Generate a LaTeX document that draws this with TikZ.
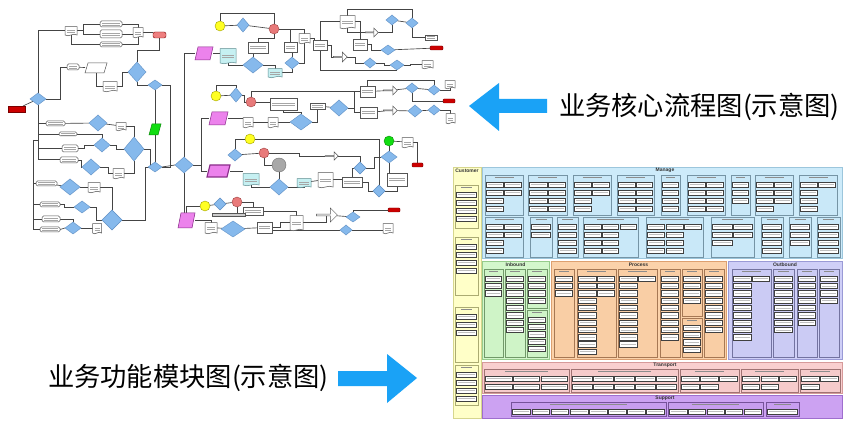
\documentclass[tikz,border=0pt]{standalone}
\usepackage{fontspec}
\newfontfamily\cjk{Noto Sans CJK SC}
\setsansfont{Liberation Sans}
\usetikzlibrary{shapes.geometric,shapes.symbols,shapes.arrows,calc}
\pgfdeclarelayer{back}
\pgfdeclarelayer{bg}
\pgfsetlayers{back,bg,main}
\definecolor{lnc}{HTML}{444444}
\definecolor{diaf}{HTML}{86B9EC}
\definecolor{diad}{HTML}{5E8FC4}
\definecolor{boxd}{HTML}{555555}
\definecolor{dred}{HTML}{CC0000}
\definecolor{salm}{HTML}{EE7F7F}
\definecolor{grn}{HTML}{11DD11}
\definecolor{grnd}{HTML}{0A8A0A}
\definecolor{yel}{HTML}{FFFF22}
\definecolor{yeld}{HTML}{A0A000}
\definecolor{redc}{HTML}{E87A7A}
\definecolor{redd}{HTML}{A04040}
\definecolor{grayc}{HTML}{A8A8A8}
\definecolor{grayd}{HTML}{707070}
\definecolor{magf}{HTML}{EC82EC}
\definecolor{magd}{HTML}{8A2E8A}
\definecolor{cyf}{HTML}{C6F0F2}
\definecolor{cyd}{HTML}{5E8C90}
\definecolor{arrb}{HTML}{1AA2F6}
\definecolor{custf}{HTML}{FFFFC8}
\definecolor{custd}{HTML}{D6D68E}
\definecolor{manf}{HTML}{CDEBFA}
\definecolor{mand}{HTML}{9CC6DC}
\definecolor{inbf}{HTML}{D4F7CC}
\definecolor{inbd}{HTML}{96CC8C}
\definecolor{prof}{HTML}{FBD2AA}
\definecolor{prod}{HTML}{DDA070}
\definecolor{outf}{HTML}{CFCFF7}
\definecolor{outd}{HTML}{9A9AD6}
\definecolor{trf}{HTML}{F9CFCF}
\definecolor{trd}{HTML}{D69A9A}
\definecolor{supf}{HTML}{CCA2F2}
\definecolor{supd}{HTML}{9E6ECE}
\newcommand\fdia[5]{\node[dia,minimum width=#4pt,minimum height=#5pt] (#1) at (#2,#3) {};}
\newcommand\fnd[6]{\node[#1,minimum width=#5pt,minimum height=#6pt] (#2) at (#3,#4) {};}
\newcommand\fprl[6]{\node[minimum width=#5pt,minimum height=#6pt] (#2) at (#3,#4) {};
  \draw[#1] (#2.south west) -- ($(#2.south east)+(-3,0)$) -- (#2.north east) -- ($(#2.north west)+(3,0)$) -- cycle;}
\newcommand\fcir[5]{\node[circle,fill=#4,draw=#5,line width=0.4pt,minimum size=10pt] (#1) at (#2,#3) {};}
\def\pitch{8}
\newcommand\sgrp[6]{%
  \draw[sgs] (#1,#2) rectangle (#3,#4);
  \draw[ftl] ({(#1+#3)/2-(#3-#1)*0.25},{#2+2.8}) -- ({(#1+#3)/2+(#3-#1)*0.25},{#2+2.8});
  \pgfmathsetmacro\cwid{(#3-#1-2)/#5}%
  \foreach \nn [count=\cc from 0] in {#6}{%
    \foreach \rr in {1,...,\nn}{%
      \draw[mb] ({#1+1.7+\cc*\cwid},{#2+7+(\rr-1)*\pitch}) rectangle ++({\cwid-1.4},5.4);
      \draw[mtx] ({#1+3+\cc*\cwid},{#2+9.7+(\rr-1)*\pitch}) -- ++({\cwid-4},0);
    }%
  }%
}
\begin{document}
\begin{tikzpicture}[x=1pt,y=-1pt,
  every node/.style={inner sep=0pt,outer sep=0pt},
  ln/.style={draw=lnc,line width=0.65pt},
  ftx/.style={path picture={\draw[black!35,line width=0.5pt]
      ([xshift=2pt,yshift=1pt]path picture bounding box.west) -- ([xshift=-2pt,yshift=1pt]path picture bounding box.east)
      ([xshift=2pt,yshift=-1pt]path picture bounding box.west) -- ([xshift=-2pt,yshift=-1pt]path picture bounding box.east);}},
  dia/.style={diamond,fill=diaf,draw=diad,line width=0.4pt},
  bx/.style={rectangle,fill=white,draw=boxd,line width=0.5pt,ftx},
  rbx/.style={rectangle,rounded corners=1.5pt,fill=white,draw=boxd,line width=0.5pt,ftx},
  doc/.style={tape,tape bend top=none,tape bend height=1.5pt,fill=white,draw=boxd,line width=0.5pt,ftx},
  cdoc/.style={tape,tape bend top=none,tape bend height=1.5pt,fill=cyf,draw=cyd,line width=0.5pt,ftx},
  prl/.style={fill=white,draw=boxd,line width=0.5pt},
  mag/.style={fill=magf,draw=magd,line width=0.5pt},
  term/.style={rectangle,rounded corners=1pt,draw=dred!60!black,line width=0.4pt},
  sarr/.style={single arrow,single arrow head extend=2pt,fill=white,draw=boxd,line width=0.5pt},
  mb/.style={fill=white,draw=black!75,line width=0.55pt},
  mtx/.style={draw=black!25,line width=0.6pt},
  ftl/.style={draw=black!45,line width=0.8pt},
  ttl/.style={font=\sffamily\bfseries\fontsize{5}{5}\selectfont,text=black!80},
  lbl/.style={font=\cjk\fontsize{26.3}{26.3}\selectfont,anchor=west,text=black}]
\begin{pgfonlayer}{back}
\fill[white] (0,0) rectangle (847,433);
\end{pgfonlayer}
\useasboundingbox (0,0) rectangle (847,433);

% ================= flowchart nodes =================
\fnd{term,fill=dred,rounded corners=0pt}{st}{16.5}{109}{17}{6}
\fdia{d1}{38}{99}{16}{12}
\fnd{doc}{a1}{71}{30.5}{12}{9}
\fnd{rbx}{r1}{111}{24}{22}{6}
\fnd{rbx}{r2}{111}{34}{22}{8}
\fnd{rbx}{r3}{111}{44.5}{22}{5}
\fnd{doc}{a2}{138}{32}{10}{10}
\fnd{term,fill=salm,rounded corners=2pt}{t1}{159.5}{35}{13}{6}
\fdia{d2}{137}{72}{18}{20}
\fdia{d3}{155}{85}{14}{10}
\fnd{rbx}{r4}{73}{67}{12}{6}
\fprl{prl}{pa1}{96}{68}{22}{10}
\fnd{doc}{a3}{110}{86}{14}{10}
\fprl{fill=grn,draw=grnd,line width=0.5pt}{g1}{155}{129.5}{12}{11}
\fdia{d4}{155}{167}{14}{10}
\fnd{rbx}{r5}{55.5}{123.5}{19}{5}
\fdia{d5}{98}{123}{18}{16}
\fnd{doc}{a4}{121}{126}{10}{8}
\fnd{rbx}{r6}{68}{134}{18}{4}
\fnd{rbx}{r7}{70}{148.5}{16}{7}
\fnd{rbx}{r8}{69}{160}{18}{6}
\fdia{d6}{102}{145}{16}{14}
\fdia{d7}{91}{167}{18}{16}
\fdia{d8}{134}{149}{20}{24}
\fnd{doc}{a5}{118.5}{173}{11}{10}
\fnd{rbx}{r9}{46.5}{183.5}{21}{5}
\fdia{d9}{70}{187}{20}{16}
\fnd{doc}{a6}{94}{187}{12}{10}
\fnd{rbx}{r10}{50}{204.5}{20}{5}
\fnd{rbx}{r11}{51}{219}{18}{6}
\fnd{rbx}{r12}{50}{229.5}{20}{5}
\fdia{d10}{82}{207}{16}{12}
\fdia{d11}{73}{228}{16}{12}
\fdia{d12}{112}{220}{20}{20}
\fnd{doc}{a7}{97}{228}{9}{10}
% middle
\fdia{dm}{184}{165}{18}{16}
\fprl{mag}{m1}{204}{53.5}{18}{13}
\fprl{mag}{m2}{218.5}{118.5}{19}{13}
\fprl{mag,line width=1.2pt}{m3}{218.5}{171}{23}{12}
\fprl{mag}{m4}{186.5}{220.5}{17}{15}
% row A
\fcir{y1}{220}{26}{yel}{yeld}
\fdia{e1}{243}{25}{12}{14}
\fcir{c1}{274}{29}{redc}{redd}
\fnd{cdoc}{cy1}{228}{55.5}{16}{15}
\fnd{bx}{b1}{258}{47.5}{20}{11}
\fdia{e2}{253}{65}{20}{16}
\fnd{cdoc}{cy2}{275}{72.5}{14}{9}
\fnd{bx}{b2}{290.5}{47}{13}{10}
\fdia{e3}{292}{63}{14}{12}
\fnd{doc}{b3}{304.5}{38}{11}{10}
\fnd{bx}{b4}{320}{45}{14}{10}
\fnd{doc}{b5}{347.5}{21.5}{15}{13}
\fdia{e4}{392}{20}{12}{10}
\fdia{e5}{412}{23}{12}{10}
\fnd{bx}{b6}{431}{37.5}{12}{5}
\fnd{bx}{b7}{360}{44.5}{14}{11}
\fnd{sarr}{ar1}{371.5}{32.5}{9}{13}
\fdia{e6}{388}{50}{14}{10}
\fnd{term,fill=dred}{t2}{436.5}{48}{13}{4}
\fnd{sarr}{ar2}{340}{57}{10}{14}
\fdia{e7}{370}{63}{12}{10}
\fdia{e8}{397}{65}{14}{10}
\fnd{doc}{b8}{427.5}{64}{11}{8}
% row B
\fcir{y2}{216}{96}{yel}{yeld}
\fdia{f1}{236}{95}{12}{14}
\fcir{c2}{251}{102}{redc}{redd}
\fnd{bx}{b9}{283.5}{104}{27}{12}
\fnd{bx}{b10}{317.5}{106}{15}{6}
\fdia{f2}{339}{108}{18}{16}
\fdia{f3}{301}{122}{22}{16}
\fnd{doc}{b11}{248}{122}{10}{10}
\fnd{doc}{b12}{273}{122}{10}{10}
\fnd{bx}{b13}{367.5}{91.5}{15}{11}
\fnd{sarr}{ar3}{390}{90.5}{9}{14}
\fdia{f4}{412}{88}{12}{10}
\fdia{f5}{434}{90}{12}{10}
\fnd{doc}{b14}{450}{84}{10}{8}
\fnd{term,fill=dred}{t3}{449}{101}{12}{4}
\fnd{bx}{b15}{368.5}{112.5}{17}{11}
\fnd{sarr}{ar4}{390}{110.5}{9}{14}
\fdia{f6}{415}{111}{14}{12}
\fdia{f7}{434}{110}{12}{10}
\fnd{doc}{b16}{450.5}{118}{9}{10}
% row C
\fcir{y3}{250}{139}{yel}{yeld}
\fdia{g2}{235}{155}{14}{12}
\fcir{c3}{264}{153}{redc}{redd}
\node[circle,fill=grayc,draw=grayd,line width=0.4pt,minimum size=14pt] (gc) at (279,165) {};
\fnd{cdoc}{cy3}{251}{179}{16}{12}
\fdia{g3}{279}{187}{18}{16}
\fnd{cdoc}{cy4}{304}{182.5}{14}{9}
\fnd{doc}{b17}{325.5}{179.5}{15}{15}
\fnd{bx}{b18}{352}{182}{20}{10}
\fnd{sarr}{ar5}{331.5}{156}{8}{13}
\fdia{g4}{360}{168}{12}{12}
\fcir{gr}{389}{141}{grn}{grnd}
\fnd{doc}{b19}{407.5}{142}{11}{10}
\fdia{g5}{389}{157}{16}{12}
\fnd{term,fill=dred}{t4}{417.5}{165}{11}{4}
\fnd{bx}{b20}{397}{179.5}{20}{13}
\fdia{g6}{379}{191}{12}{12}
% row D
\fcir{y4}{205}{206}{yel}{yeld}
\fdia{h1}{220}{204}{12}{12}
\fcir{c4}{237}{202}{redc}{redd}
\fnd{bx}{b21}{253}{211}{20}{8}
\node[rectangle,fill=gray!40,draw=boxd,line width=0.5pt,minimum width=33pt,minimum height=3pt] (bar) at (228.5,215) {};
\fnd{doc}{b22}{211}{227.5}{12}{11}
\fdia{h2}{233}{229}{24}{16}
\fnd{bx}{b23}{264.5}{227.5}{15}{11}
\fnd{doc}{b24}{296.5}{222.5}{13}{15}
\fnd{sarr}{ar6}{326.5}{215}{14}{21}
\fdia{h3}{353}{217}{14}{10}
\fnd{term,fill=dred}{t5}{394}{210}{12}{4}
\fdia{h4}{346}{230}{12}{10}
\fnd{doc}{b25}{388}{228}{10}{10}

% ================= flowchart connectors =================
\begin{pgfonlayer}{bg}
\draw[ln] (st) -- (d1);
\draw[ln] (d1.north) |- (a1.west);
\draw[ln] (a1.east) -- ++(6,0) |- (r1.west);
\draw[ln] (a1.east) -- ++(6,0) |- (r2.west);
\draw[ln] (a1.south) |- (r3.west);
\draw[ln] (r1.east) -| (a2.north);
\draw[ln] (r2.east) -- (r2.east -| a2.west);
\draw[ln] (r3.east) -| (a2.south);
\draw[ln] (a2.east) -- (a2.east -| t1.west);
\draw[ln] (d2.north) -- ++(0,-12) -| (t1.south);
\draw[ln] (d1.east) -- ++(14,0) |- (r4.west);
\draw[ln] (r4) -- (pa1);
\draw[ln] (pa1.south) |- (a3.west);
\draw[ln] (a3.east) -- ++(5,0) |- (d2.west);
\draw[ln] (d2.south) |- (d3.west);
\draw[ln] (d3.south) -- (g1.north);
\draw[ln] (g1.south) -- (d4.north);
\draw[ln] (d3.east) -- ++(8,0) |- (d4.east);
\draw[ln] (d4.east) -- (dm.west);
\draw[ln,line width=1pt] (d1.south) |- (r8.west);
\draw[ln] (d1.south |- r5.west) -- (r5.west);
\draw[ln] (d1.south |- r6.west) -- (r6.west);
\draw[ln] (d1.south |- r7.west) -- (r7.west);
\coordinate (lb) at (33,140);
\draw[ln] (lb) -- (lb -| d1.south);
\draw[ln] (lb) |- (r12.west);
\draw[ln] (lb |- r9.west) -- (r9.west);
\draw[ln] (lb |- r10.west) -- (r10.west);
\draw[ln] (lb |- r11.west) -- (r11.west);
\draw[ln] (r5) -- (d5);
\draw[ln] (d5) -- (a4);
\draw[ln] (a4.east) -| (d8.north);
\draw[ln] (r6.east) -| (d6.north);
\draw[ln] (r7.east) -- ++(6,0) |- (d6.west);
\draw[ln] (d6.east) -- ++(6,0) |- (d8.west);
\draw[ln] (r8.east) -- ++(3,0) |- (d7.west);
\draw[ln] (d7.east) -- ++(8,0) |- (a5.west);
\draw[ln] (d8.south) |- (a5.east);
\draw[ln] (d8.east) -- ++(6,0) |- (d4.west);
\draw[ln] (r9) -- (d9);
\draw[ln] (d9) -- (a6);
\draw[ln] (a6.east) -| (d12.north);
\draw[ln] (r10.east) -- ++(4,0) |- (d10.west);
\draw[ln] (d10.east) -- ++(6,0) |- (d12.west);
\draw[ln] (r11.east) -| (d11.north);
\draw[ln] (r12.east) -- (d11.west);
\draw[ln] (d11.east) -- (a7.west);
\draw[ln] (d12.east) -- ++(23,0) |- (d4.west);
\draw[ln] (dm.north) |- (m1.west);
\draw[ln] (dm.east) -- ++(8,0) |- (m2.west);
\draw[ln] (dm.east) -- ++(8,0) |- (m3.west);
\draw[ln] (dm.south) -- (dm.south |- m4.north);
% row A
\draw[ln] (m1.east) -- (m1.east -| cy1.west);
\draw[ln] (y1) -- (e1);
\draw[ln] (e1) -- (c1);
\draw[ln] (y1.north) -- ++(0,-8) -| (c1.north);
\draw[ln] (cy1.south) |- (e2.west);
\draw[ln] (e2.north) -- (e2.north |- b1.south);
\draw[ln] (c1.south) -- ++(0,4) -| (b1.north);
\draw[ln] (e2.east) -| (cy2.north);
\draw[ln] (c1.east) -| (b2.north);
\draw[ln] (e3.north) -- (e3.north |- b2.south);
\draw[ln] (cy2.east) -| (e3.south);
\draw[ln] (e3.east) -| (b3.south);
\draw[ln] (c1.east) -| (b3.north);
\draw[ln] (b3.east) -- ++(4,0) |- (b4.west);
\draw[ln] (b4.north) |- (b5.west);
\draw[ln] (b5.north) -- ++(0,-6) -| (e5.north);
\draw[ln] (b5.south) |- (ar1.west);
\draw[ln] (ar1.east) -| (e4.south);
\draw[ln] (e4) -- (e5);
\draw[ln] (e5.south) |- (b6.west);
\draw[ln] (b5.east) -| (b7.north);
\draw[ln] (b7.east) -- ++(4,0) |- (e6.west);
\draw[ln] (e6) -- (t2);
\draw[ln] (b4.east) -- ++(4,0) |- (ar2.west);
\draw[ln] (ar2.east) -- ++(8,0) |- (e7.west);
\draw[ln] (e7.east) -- ++(8,0) |- (e8.west);
\draw[ln] (e8.east) -- ++(6,0) |- (b8.west);
\draw[ln] (b4.south) |- (e8.south);
% row B
\draw[ln] (y2) -- (f1);
\draw[ln] (y2.north) -- ++(0,-6) -| (f1.north);
\draw[ln] (f1.east) -- ++(2,0) |- (c2.west);
\draw[ln,line width=1pt] (c2.north) |- (b13.west);
\draw[ln] (c2.east) -- (c2.east -| b9.west);
\draw[ln] (m2.east) -- (m2.east -| b11.west);
\draw[ln] (b11) -- (b12);
\draw[ln] (b12.east) -- (f3.west);
\draw[ln] (b9.south) -- ++(0,2) -| (f3.north);
\draw[ln] (f3.east) -| (b10.south);
\draw[ln] (b10) -- (f2);
\draw[ln] (f2.east) -- ++(6,0) |- (b15.west);
\draw[ln] (f2.east) -- ++(6,0) |- (b13.west);
\draw[ln] (b13) -- (ar3);
\draw[ln] (ar3) -- (f4);
\draw[ln] (f4) -- (f5);
\draw[ln] (f5.east) -| (b14.south);
\draw[ln] (f4.south) |- (t3.west);
\draw[ln] (b13.north) -- ++(0,-6) -| (f5.north);
\draw[ln] (b15) -- (ar4);
\draw[ln] (ar4) -- (f6);
\draw[ln] (f6) -- (f7);
\draw[ln] (f7.east) -| (b16.north);
% row C
\draw[ln] (m3.east) -- (m3.east -| cy3.west);
\draw[ln] (y3.west) -| (g2.north);
\draw[ln] (g2) -- (c3);
\draw[ln] (y3.east) -| (g6.north);
\draw[ln] (gc) -- (g3);
\draw[ln] (c3.south) |- (gc.west);
\draw[ln] (cy3.south) |- (g3.west);
\draw[ln] (g3.east) -| (cy4.south);
\draw[ln] (cy4) -- (b17);
\draw[ln] (b17.east) -- (b17.east -| b18.west);
\draw[ln] (c3.east) -- ++(30,0) |- (ar5.west);
\draw[ln] (ar5.east) -| (g4.north);
\draw[ln] (b18.north) |- (g4.west);
\draw[ln] (g4.east) -- ++(8,0) |- (g5.west);
\draw[ln] (gr) -- (g5);
\draw[ln] (gr) -- (b19);
\draw[ln] (b19.east) -| (t4.north);
\draw[ln] (g5.south) -- (g5.south |- b20.north);
\draw[ln] (g6.east) -| (b20.south);
\draw[ln] (b18.east) -- ++(6,0) |- (g6.west);
% row D
\draw[ln] (m4.north) |- (y4.west);
\draw[ln] (y4) -- (h1);
\draw[ln] (h1) -- (c4);
\draw[ln] (c4.east) -| (b21.north);
\draw[ln] (c4.south) -- (c4.south |- bar.north);
\draw[ln] (m4.east) -| (b22.north);
\draw[ln] (b22) -- (h2);
\draw[ln] (h2) -- (b23);
\draw[ln] (b23.east) -- ++(8,0) |- (b24.west);
\draw[ln] (b21.east) -| (b24.north);
\draw[ln] (b24.east) -| (ar6.south);
\draw[ln] (ar6) -- (h3);
\draw[ln] (h3.north) |- (t5.west);
\draw[ln] (b23.south) |- (h4.west);
\draw[ln] (h4.east) -- (h4.east -| b25.west);
\end{pgfonlayer}

% ================= module map =================
\begin{scope}[sgs/.style={fill=custf,draw=custd!80!black,line width=0.5pt}]
\draw[fill=custf,draw=custd,line width=0.6pt] (453,167) rectangle (481,418);
\node[ttl] (tcust) at (467,170.5) {Customer};
\sgrp{455}{185}{478}{228}{1}{4}
\sgrp{455}{237}{478}{295}{1}{4}
\sgrp{455}{307}{478}{362}{1}{3}
\sgrp{455}{365}{478}{405}{1}{4}
\end{scope}
\begin{scope}[sgs/.style={fill=manf!92!mand,draw=mand!75!black,line width=0.4pt}]
\draw[fill=manf,draw=mand,line width=0.6pt] (482,167) rectangle (842,258);
\node[ttl] (tman) at (665,170.5) {Manage};
\sgrp{485}{175}{523}{215}{2}{4,2}
\sgrp{528}{175}{567}{215}{2}{4,4}
\sgrp{573}{175}{611}{215}{2}{4,2}
\sgrp{617}{175}{654}{215}{2}{4,4}
\sgrp{661}{175}{680}{215}{1}{4}
\sgrp{687}{175}{725}{215}{2}{4,4}
\sgrp{731}{175}{750}{215}{1}{3}
\sgrp{755}{175}{793}{215}{2}{4,3}
\sgrp{799}{175}{837}{215}{2}{4,1}
\sgrp{485}{217}{523}{257}{2}{4,2}
\sgrp{530}{217}{552}{257}{1}{2}
\sgrp{557}{217}{578}{257}{1}{4}
\sgrp{583}{217}{638}{257}{3}{4,4,1}
\sgrp{646}{217}{703}{257}{3}{4,4,1}
\sgrp{711}{217}{754}{257}{2}{3,2}
\sgrp{761}{217}{783}{257}{1}{4}
\sgrp{789}{217}{811}{257}{1}{3}
\sgrp{817}{217}{840}{257}{1}{4}
\end{scope}
\def\pitch{7.3}
\begin{scope}[sgs/.style={fill=inbf!92!inbd,draw=inbd!75!black,line width=0.4pt}]
\draw[fill=inbf,draw=inbd,line width=0.6pt] (482,261) rectangle (549,359);
\node[ttl] (tinb) at (515.5,264.5) {Inbound};
\sgrp{484}{269}{503}{357}{1}{3}
\sgrp{505}{269}{525}{357}{1}{8}
\sgrp{527}{269}{547}{308}{1}{4}
\sgrp{527}{310}{547}{357}{1}{5}
\end{scope}
\begin{scope}[sgs/.style={fill=prof!92!prod,draw=prod!75!black,line width=0.4pt}]
\draw[fill=prof,draw=prod,line width=0.6pt] (551,261) rectangle (726,359);
\node[ttl] (tpro) at (638.5,264.5) {Process};
\sgrp{554}{269}{574}{357}{1}{3}
\sgrp{577}{269}{616}{357}{2}{11,3}
\sgrp{618}{269}{657}{357}{2}{10,1}
\sgrp{660}{269}{680}{357}{1}{9}
\sgrp{682}{269}{702}{316}{1}{4}
\sgrp{682}{318}{702}{357}{1}{4}
\sgrp{704}{269}{724}{357}{1}{8}
\end{scope}
\begin{scope}[sgs/.style={fill=outf!92!outd,draw=outd!75!black,line width=0.4pt}]
\draw[fill=outf,draw=outd,line width=0.6pt] (728,261) rectangle (842,359);
\node[ttl] (tout) at (785,264.5) {Outbound};
\sgrp{732}{269}{771}{357}{2}{9,1}
\sgrp{773}{269}{794}{357}{1}{8}
\sgrp{797}{269}{817}{357}{1}{7}
\sgrp{819}{269}{839}{357}{1}{4}
\end{scope}
\def\pitch{8}
\begin{scope}[sgs/.style={fill=trf!92!trd,draw=trd!75!black,line width=0.4pt}]
\draw[fill=trf,draw=trd,line width=0.6pt] (482,362) rectangle (842,393);
\node[ttl] (ttra) at (665,365.5) {Transport};
\sgrp{484}{369}{569}{392}{3}{2,2,2}
\sgrp{571}{369}{678}{392}{5}{2,2,2,2,2}
\sgrp{680}{369}{739}{392}{3}{2,2,1}
\sgrp{741}{369}{798}{392}{3}{2,2,1}
\sgrp{800}{369}{840}{392}{2}{2,1}
\end{scope}
\begin{scope}[sgs/.style={fill=supf!92!supd,draw=supd!75!black,line width=0.4pt}]
\draw[fill=supf,draw=supd,line width=0.6pt] (482,395) rectangle (842,418);
\node[ttl] (tsup) at (665,398.5) {Support};
\sgrp{511}{402}{666}{416}{8}{1,1,1,1,1,1,1,1}
\sgrp{668}{402}{763}{416}{5}{1,1,1,1,1}
\sgrp{766}{402}{799}{416}{1}{1}
\end{scope}

% ================= labels and blue arrows =================
\fill[arrb] (469,106) -- (499,83) -- (499,99) -- (547,99) -- (547,113) -- (499,113) -- (499,131) -- cycle;
\fill[arrb] (417,378) -- (387,354) -- (387,371) -- (338,371) -- (338,386) -- (387,386) -- (387,403) -- cycle;
\node[lbl] (lab1) at (559,107) {业务核心流程图(示意图)};
\node[lbl] (lab2) at (48,378) {业务功能模块图(示意图)};
\end{tikzpicture}
\end{document}
